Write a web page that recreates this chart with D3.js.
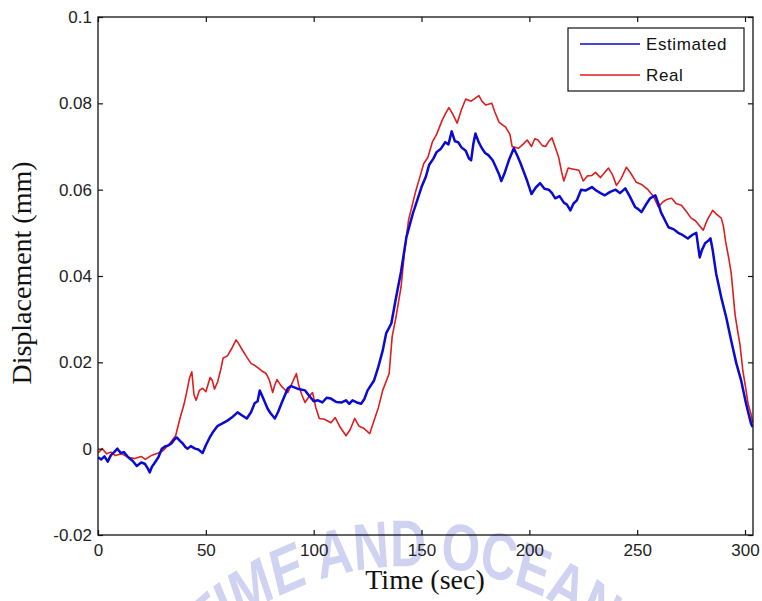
<!DOCTYPE html>
<html>
<head>
<meta charset="utf-8">
<script src="https://cdn.jsdelivr.net/npm/d3@7"></script>
<style>
  body { margin: 0; background: #fff; }
  .tick text { font-family: "Liberation Sans", Arial, sans-serif; font-size: 17px; fill: #222; }
</style>
</head>
<body>
<svg id="chart" width="762" height="601"></svg>
<script>
// time (sec), displacement (mm)
let estimated = [
  [0,-0.002],[1.5,-0.0025],[3,-0.0018],[4.5,-0.003],[6,-0.0015],[7.5,-0.0008],[9,0.0],[10.5,-0.001],
  [12,-0.0008],[14,-0.002],[16,-0.0028],[18,-0.004],[20,-0.0032],[21.7,-0.0035],[23,-0.0045],[24,-0.0055],
  [25,-0.0042],[26,-0.0035],[28,-0.002],[29.6,0.0],[31,0.0005],[32.4,0.0007],[34,0.0012],[35.5,0.0022],
  [36.5,0.0026],[38,0.0018],[39.3,0.0012],[40.5,0.0004],[41.6,0.0],[43,0.0006],[45,0.0],[46.5,-0.0002],
  [48.5,-0.001],[50,0.0008],[51.8,0.0026],[53.5,0.004],[55.5,0.0053],[57.5,0.0058],[60,0.0065],[62,0.0072],
  [64.7,0.0084],[66.5,0.0078],[69,0.007],[71,0.0085],[72.6,0.0105],[74,0.011],[75,0.0135],[76.5,0.0118],
  [78.6,0.0093],[80,0.0082],[82,0.007],[83.5,0.0085],[85,0.0104],[86.5,0.0122],[88,0.014],[89.5,0.0145],
  [91,0.0142],[93,0.0138],[96,0.0135],[98,0.0122],[100,0.011],[102,0.0112],[104,0.0107],[106,0.0118],
  [108,0.0116],[110.5,0.0108],[113,0.0107],[115,0.0112],[116.5,0.0104],[118,0.0112],[120,0.0107],[122,0.0104],
  [123.5,0.0115],[125,0.0135],[128,0.0158],[130,0.019],[132,0.0227],[133.6,0.0267],[136,0.029],[138,0.0345],
  [140.5,0.041],[143,0.049],[146,0.0545],[148,0.0575],[150,0.0606],[152,0.063],[153.5,0.0657],[155.5,0.0672],
  [157,0.0687],[159,0.0695],[161,0.071],[162.5,0.0705],[164,0.0735],[165.5,0.0712],[167,0.071],[168.5,0.0698],
  [170.5,0.069],[172,0.0672],[173,0.0668],[174,0.0705],[175,0.073],[176.5,0.071],[178,0.0696],[179.5,0.0685],
  [181,0.068],[183,0.0668],[184.5,0.0652],[186,0.0635],[187,0.062],[188.5,0.0638],[190.5,0.0668],[192.8,0.0696],
  [194.5,0.0678],[196,0.066],[197.5,0.064],[199,0.062],[201,0.059],[203,0.0605],[205,0.0615],[207,0.0602],
  [209,0.06],[210.5,0.0592],[212,0.058],[214,0.0585],[216,0.057],[217.5,0.0565],[219,0.0552],[220.5,0.0568],
  [222,0.0575],[224,0.06],[226,0.0598],[229,0.0606],[231,0.0598],[233,0.0592],[235,0.0587],[237.5,0.0595],
  [240,0.06],[242,0.0592],[244.5,0.0603],[246.5,0.0585],[249,0.056],[250.5,0.0555],[252,0.0548],[254,0.0565],
  [256,0.058],[258.4,0.0587],[260,0.0565],[261,0.0548],[263,0.0528],[264.5,0.0513],[267,0.0508],[269,0.05],
  [271,0.0495],[273.5,0.0487],[275.5,0.0495],[277.4,0.05],[279,0.0443],[280,0.046],[281.5,0.0476],[283,0.0482],
  [284,0.0487],[285,0.046],[286.6,0.0406],[289,0.035],[291.3,0.0304],[293.6,0.025],[296,0.0197],[298.2,0.0158],
  [300.5,0.0104],[302.8,0.0058],[303.5,0.005]
]

let real = [
  [0,-0.001],[2,0.0],[4,-0.0012],[6,-0.0008],[8,-0.0016],[11,-0.0012],[14,-0.002],[17,-0.0023],
  [20,-0.0018],[22,-0.0025],[25,-0.0015],[28,-0.001],[30,-0.0005],[33,0.001],[36,0.003],[38,0.007],
  [40,0.0105],[41,0.0128],[42.5,0.0165],[43.5,0.0178],[44.5,0.0125],[45.5,0.0112],[47,0.0135],[48.5,0.014],
  [50,0.0132],[52,0.0165],[53,0.0158],[54,0.0138],[55.5,0.0155],[57,0.0185],[58,0.021],[60,0.0215],
  [62,0.0232],[64,0.0252],[65,0.0245],[67,0.0228],[69,0.0212],[71,0.0197],[73,0.0192],[76,0.018],
  [78,0.0174],[79.5,0.0158],[81,0.013],[82,0.0148],[83,0.016],[85,0.0145],[88,0.013],[90,0.0152],
  [92,0.0174],[93,0.0148],[94.5,0.0125],[96,0.0107],[98,0.0122],[99.5,0.013],[101,0.0095],[102.6,0.007],
  [105,0.0068],[108,0.006],[110,0.0072],[112,0.0052],[115,0.003],[117,0.0045],[119,0.007],[121,0.0052],
  [123,0.0048],[126,0.0035],[128,0.0065],[130,0.0095],[132,0.0135],[135,0.0174],[136.4,0.026],[138,0.03],
  [140.5,0.0374],[142,0.045],[144,0.053],[146,0.057],[147.5,0.06],[149,0.0625],[151,0.066],[153,0.0675],
  [155,0.071],[157,0.0728],[159.5,0.076],[161,0.0775],[162.7,0.079],[164.5,0.0775],[166.5,0.0754],[168.5,0.0785],
  [170.5,0.081],[173,0.0805],[175,0.0812],[176.6,0.0818],[178,0.0805],[179.8,0.0796],[182.6,0.08],[184,0.078],
  [186,0.0756],[189,0.0745],[191,0.0728],[192,0.07],[195,0.0696],[197,0.0705],[199,0.0715],[201,0.07],
  [202.5,0.0718],[204,0.0715],[206,0.0702],[207.5,0.07],[209,0.0712],[210.5,0.072],[212,0.0698],[213.6,0.0675],
  [215,0.064],[216,0.062],[218,0.065],[220,0.0648],[223,0.0645],[225,0.062],[227,0.0632],[229,0.0633],
  [230.7,0.064],[233,0.0628],[236.7,0.065],[238.5,0.0635],[240.4,0.061],[242.5,0.0625],[245,0.0652],[247,0.0638],
  [249.6,0.0617],[252,0.0612],[255,0.06],[257.5,0.0585],[259.8,0.056],[262,0.0572],[264,0.0578],[266,0.058],
  [268,0.0568],[270.5,0.0564],[273,0.0548],[275,0.0534],[277,0.0528],[280.6,0.0506],[282.5,0.053],[285,0.0552],
  [287,0.0542],[289,0.0534],[290,0.0515],[291,0.048],[292.5,0.044],[293.6,0.0406],[295.4,0.031],[296.5,0.0275],
  [297.7,0.024],[299,0.018],[300.5,0.0135],[301.4,0.0104],[302.8,0.008],[303.5,0.006]
]

let seriesNames = ["Estimated", "Real"]
let seriesColors = ["#0a0ad2", "#dc1e1e"]
let xTicks = [0, 50, 100, 150, 200, 250, 300]
let yTicks = [-0.02, 0, 0.02, 0.04, 0.06, 0.08, 0.1]

let margin = {top: 17, right: 9, bottom: 66, left: 98},
  width = 762,
  height = 601

let svg = d3.select("#chart")

let x = d3.scaleLinear()
  .domain([0, 303.7])
  .range([margin.left, width - margin.right])
let y = d3.scaleLinear()
  .domain([-0.02, 0.1])
  .range([height - margin.bottom, margin.top])

let fmt = v => v === 0 ? "0" : String(+v.toFixed(2))

// faint watermark arc behind everything, glyphs squeezed horizontally
let sq = 0.75, cx = 410, cy = 866, r = 300
let wm = svg.append("g").attr("transform", `scale(${sq},1)`)
wm.append("path")
  .attr("id", "wm")
  .attr("fill", "none")
  .attr("d", `M ${(cx - r) / sq} ${cy} A ${r / sq} ${r} 0 0 1 ${(cx + r) / sq} ${cy}`)
wm.append("text")
  .attr("font-family", "Liberation Sans, Arial, sans-serif")
  .attr("font-weight", "bold")
  .attr("font-size", 66)
  .attr("fill", "#cfd2f0")
  .append("textPath")
  .attr("href", "#wm")
  .attr("startOffset", "8%")
  .text("MARITIME AND OCEAN")

svg.append("clipPath").attr("id", "clip")
  .append("rect")
  .attr("x", margin.left).attr("y", margin.top)
  .attr("width", width - margin.left - margin.right)
  .attr("height", height - margin.top - margin.bottom)

let line = d3.line()
  .x(d => x(d[0]))
  .y(d => y(d[1]))

let plot = svg.append("g").attr("clip-path", "url(#clip)")
plot.append("path")
  .datum(real)
  .attr("fill", "none")
  .attr("stroke", seriesColors[1])
  .attr("stroke-width", 1.6)
  .attr("stroke-linejoin", "round")
  .attr("d", line)
plot.append("path")
  .datum(estimated)
  .attr("fill", "none")
  .attr("stroke", seriesColors[0])
  .attr("stroke-width", 2.5)
  .attr("stroke-linejoin", "round")
  .attr("d", line)

// axes with inward ticks on all four sides
svg.append("g")
  .attr("transform", `translate(0,${height - margin.bottom})`)
  .call(d3.axisBottom(x).tickValues(xTicks).tickSize(-5).tickPadding(9))
svg.append("g")
  .attr("transform", `translate(${margin.left},0)`)
  .call(d3.axisLeft(y).tickValues(yTicks).tickFormat(fmt).tickSize(-5).tickPadding(6))
svg.append("g")
  .attr("transform", `translate(0,${margin.top})`)
  .call(d3.axisTop(x).tickValues(xTicks).tickFormat("").tickSize(-5))
svg.append("g")
  .attr("transform", `translate(${width - margin.right},0)`)
  .call(d3.axisRight(y).tickValues(yTicks).tickFormat("").tickSize(-5))

svg.selectAll(".domain").remove()
svg.selectAll(".tick line").attr("stroke", "#111").attr("stroke-width", 1.2)

svg.append("rect")
  .attr("x", margin.left).attr("y", margin.top)
  .attr("width", width - margin.left - margin.right)
  .attr("height", height - margin.top - margin.bottom)
  .attr("fill", "none")
  .attr("stroke", "#111")
  .attr("stroke-width", 1.3)

// axis titles
svg.append("text")
  .attr("x", 425).attr("y", 589)
  .attr("text-anchor", "middle")
  .attr("font-family", "Liberation Serif, Times New Roman, serif")
  .attr("font-size", 28)
  .attr("fill", "#111")
  .text("Time (sec)")
svg.append("text")
  .attr("transform", "translate(31,273) rotate(-90)")
  .attr("text-anchor", "middle")
  .attr("font-family", "Liberation Serif, Times New Roman, serif")
  .attr("font-size", 28)
  .attr("fill", "#111")
  .text("Displacement (mm)")

// legend
let legend = svg.append("g")
legend.append("rect")
  .attr("x", 568).attr("y", 28)
  .attr("width", 176).attr("height", 63)
  .attr("fill", "#fff")
  .attr("stroke", "#111")
  .attr("stroke-width", 1.2)
seriesNames.forEach((name, i) => {
  let ly = 44 + i * 31
  legend.append("line")
    .attr("x1", 580).attr("x2", 640)
    .attr("y1", ly).attr("y2", ly)
    .attr("stroke", seriesColors[i])
    .attr("stroke-width", 1.3)
  legend.append("text")
    .attr("x", 646).attr("y", ly + 6)
    .attr("font-family", "Liberation Sans, Arial, sans-serif")
    .attr("font-size", 17)
    .attr("letter-spacing", 0.6)
    .attr("fill", "#111")
    .text(name)
})
</script>
</body>
</html>
